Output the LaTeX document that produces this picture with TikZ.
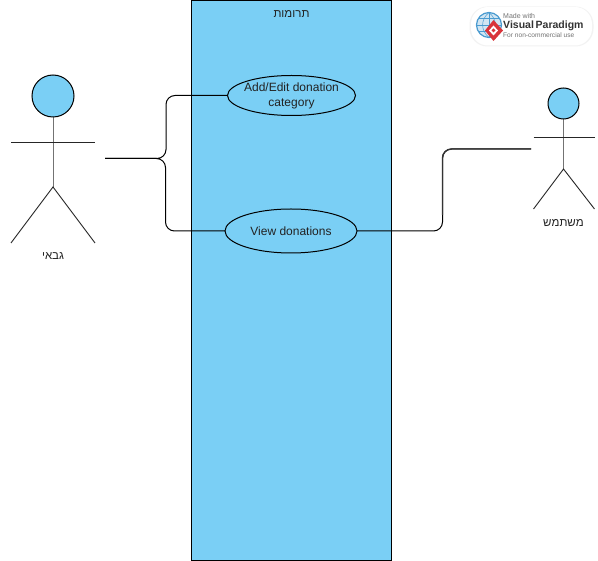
\documentclass[tikz,border=0pt]{standalone}
\usepackage{fontspec}
\setmainfont{Liberation Sans}
\TeXXeTstate=1
\usetikzlibrary{shapes.geometric,calc}
\definecolor{ucblue}{HTML}{7ACFF5}
\definecolor{inkdark}{HTML}{222222}
\definecolor{vpblue}{HTML}{4A9BD0}
\definecolor{vpred}{HTML}{D9343A}
\tikzset{
  usecase/.style={ellipse,draw=black,line width=1pt,fill=ucblue,inner sep=0pt,outer sep=0pt,minimum width=#1},
  txt/.style={font=\fontsize{12}{15.5}\selectfont,text=inkdark,align=center,inner sep=0pt},
  lab/.style={font=\fontsize{11.5}{14}\selectfont,text=inkdark,inner sep=0pt},
  conn/.style={draw=black,line width=1pt,rounded corners=9pt},
  limb/.style={draw=black!85,line width=0.9pt},
  logotxt/.style={inner sep=0pt,anchor=west,text=black!55}
}
\begin{document}
\begin{tikzpicture}[x=1pt,y=-1pt]
\useasboundingbox (0,0) rectangle (598,561);
\fill[white] (0,0) rectangle (598,561);
% system boundary
\node[draw=black,line width=1pt,fill=ucblue,minimum width=200pt,minimum height=560pt,inner sep=0pt,outer sep=0pt,anchor=north west] (sys) at (191.5,0.5) {};
\node[lab] (title) at (291.5,14) {\beginR תרומות\endR};
% use cases
\node[usecase=128pt,minimum height=40pt] (uc1) at (291.5,95.5) {};
\node[txt] (uc1t) at (291.5,96) {Add/Edit donation\\category};
\node[usecase=132pt,minimum height=44pt] (uc2) at (291,231) {\fontsize{12}{14}\selectfont\color{inkdark}View donations};
% left actor
\draw[limb,draw=black!55] (53,117) -- (53,187);
\node[circle,draw=black,line width=1pt,fill=ucblue,minimum size=42pt,inner sep=0pt] (a1head) at (53,96) {};
\coordinate (a1l) at (11,142);\coordinate (a1r) at (95,142);
\coordinate (a1hip) at (53,187);\coordinate (a1fl) at (11,243);\coordinate (a1fr) at (95,243);
\draw[limb] (a1l) -- (a1r);
\draw[limb] (a1fl) -- (a1hip) -- (a1fr);
\node[lab] (a1label) at (53,256) {\beginR גבאי\endR};
% right actor
\draw[limb,draw=black!55] (563.5,119) -- (563.5,169);
\node[circle,draw=black,line width=1pt,fill=ucblue,minimum size=31pt,inner sep=0pt] (a2head) at (563.5,103.5) {};
\coordinate (a2l) at (533.5,137);\coordinate (a2r) at (594.5,137);
\coordinate (a2hip) at (563.5,169);\coordinate (a2fl) at (533.5,209);\coordinate (a2fr) at (594.5,209);
\draw[limb] (a2l) -- (a2r);
\draw[limb] (a2fl) -- (a2hip) -- (a2fr);
\node[lab] (a2label) at (563.5,223) {\beginR משתמש\endR};
% connectors
\coordinate (a1port) at (105,158.5);
\coordinate (a2port) at (531,149);
\draw[conn] (a1port) -- (166,158.5) -- (166,95.5) -- (uc1.west);
\draw[conn] (a1port) -- (165.5,158.5) -- (165.5,231) -- (uc2.west);
\draw[line width=1.6pt] (a1port) -- (160,158.5);
\draw[conn] (uc2.east) -- (442.5,231) -- (442.5,149) -- (a2port);
\draw[draw=black!80,line width=1.4pt,rounded corners=9pt] (442.5,215) -- (442.5,149) -- (a2port);
% watermark
\fill[black!5,rounded corners=18pt] (469.5,6.5) rectangle (593.5,46.5);
\fill[white,rounded corners=17pt] (471,7) rectangle (592,45.5);
\node[circle,draw=vpblue,line width=1.2pt,fill=vpblue!25,minimum size=25pt,inner sep=0pt] (globe) at (489,25) {};
\draw[vpblue,line width=0.5pt] (476.5,25) -- (501.5,25) (489,12.5) -- (489,37.5) (478.5,18.5) -- (499.5,18.5) (478.5,31.5) -- (499.5,31.5);
\draw[vpblue,line width=0.5pt] (489,12.5) .. controls (480.5,19.5) and (480.5,30.5) .. (489,37.5);
\draw[vpblue,line width=0.5pt] (489,12.5) .. controls (497.5,19.5) and (497.5,30.5) .. (489,37.5);
\fill[vpred] (493.5,20) -- (503,30.5) -- (493.5,41) -- (485,30.5) -- cycle;
\fill[white] (493.5,25.5) -- (498,30.5) -- (493.5,35.5) -- (489,30.5) -- cycle;
\fill[vpred] (493.5,28.5) -- (495.5,30.5) -- (493.5,32.5) -- (491.5,30.5) -- cycle;
\node[logotxt,font=\fontsize{7}{8}\selectfont] (made) at (503,16.5) {Made with};
\node[logotxt,font=\bfseries\fontsize{10.5}{12}\selectfont,text=black!80] (vp) at (503,26) {Visual\,Paradigm};
\node[logotxt,font=\fontsize{6.6}{7}\selectfont] (nc) at (503,35.5) {For non-commercial use};
\end{tikzpicture}
\end{document}
